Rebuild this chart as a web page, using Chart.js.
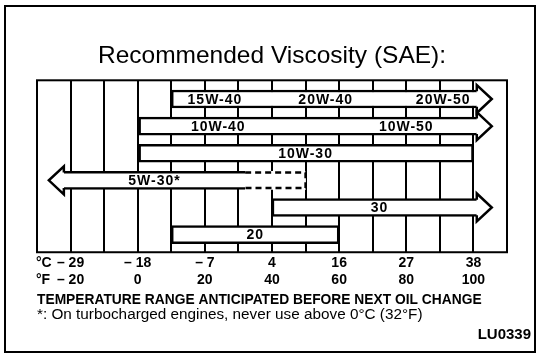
<!DOCTYPE html>
<html>
<head>
<meta charset="utf-8">
<script src="https://cdn.jsdelivr.net/npm/chart.js@4/dist/chart.umd.min.js"></script>
<style>
  html, body { margin: 0; padding: 0; background: #fff; }
  #wrap { width: 541px; height: 359px; }
</style>
</head>
<body>
<div id="wrap"><canvas id="c" width="541" height="359"></canvas></div>
<script>
// Oil grades, one row each (top to bottom)
const rowNames = ['15W-40 / 20W-40 / 20W-50', '10W-40 / 10W-50', '10W-30', '5W-30*', '30', '20'];
// Recommended ambient temperature range per row, in °F
const rangeFrom = [10, 0, 0, -22, 40, 10];
const rangeTo   = [101, 101, 100, 32, 101, 60];
// Ranges that stay open beyond the printed scale
const openSide = ['right', 'right', null, 'left', 'right', null];
// Dashed stretch of 5W-30 (not for turbocharged engines above 0 °C)
const dashedRow  = [3];
const dashedFrom = [32];
const dashedTo   = [50];
// Grade names printed in each bar, and the °F value each one is centred on
const gradeNames = [['15W-40', '20W-40', '20W-50'], ['10W-40', '10W-50'], ['10W-30'], ['5W-30*'], ['30'], ['20']];
const gradeAtF   = [[23, 56, 91], [24, 80], [50], [5], [72], [35]];
// Temperature scale labels
const tickF = [-20, 0, 20, 40, 60, 80, 100];
const tickC = [-29, -18, -7, 4, 16, 27, 38];

const FONT = '"Liberation Sans", Arial, Helvetica, sans-serif';
const INK = '#000';
const BAR_LW = 2.5;

function fmtDeg(v) {
  return v < 0 ? '\u2013 ' + Math.abs(v) : String(v);
}

// White page and the thin frame round the whole figure
const framePlugin = {
  id: 'frame',
  beforeDraw(chart) {
    const ctx = chart.ctx;
    ctx.save();
    ctx.fillStyle = '#fff';
    ctx.fillRect(0, 0, chart.width, chart.height);
    ctx.strokeStyle = INK;
    ctx.lineWidth = 2;
    ctx.strokeRect(5, 6, chart.width - 11, chart.height - 13);
    ctx.restore();
  }
};

// Outline of the plotting box
const boxPlugin = {
  id: 'box',
  beforeDatasetsDraw(chart) {
    const {ctx, chartArea: a} = chart;
    ctx.save();
    ctx.strokeStyle = INK;
    ctx.lineWidth = 2;
    ctx.strokeRect(a.left, a.top, a.right - a.left, a.bottom - a.top);
    ctx.restore();
  }
};

// Arrow heads, dashed stretch and grade names on the bars
const marksPlugin = {
  id: 'marks',
  afterDatasetsDraw(chart) {
    const ctx = chart.ctx;
    const xs = chart.scales.x, ys = chart.scales.y;
    const HEAD_LEN = 15, HEAD_HALF = 14;
    ctx.save();
    ctx.strokeStyle = INK;
    ctx.fillStyle = '#fff';
    ctx.lineWidth = BAR_LW;
    ctx.lineJoin = 'miter';

    const bars = chart.getDatasetMeta(0).data;
    bars.forEach((el, i) => {
      const side = openSide[i];
      if (!side) return;
      const p = el.getProps(['x', 'y', 'base', 'height'], true);
      const yTop = p.y - p.height / 2 + BAR_LW / 2;
      const yBot = p.y + p.height / 2 - BAR_LW / 2;
      const xe = side === 'right' ? Math.max(p.x, p.base) : Math.min(p.x, p.base);
      const dir = side === 'right' ? 1 : -1;
      ctx.beginPath();
      ctx.moveTo(xe, p.y - HEAD_HALF);
      ctx.lineTo(xe + dir * HEAD_LEN, p.y);
      ctx.lineTo(xe, p.y + HEAD_HALF);
      ctx.closePath();
      ctx.fill();
      ctx.beginPath();
      ctx.moveTo(xe, yTop);
      ctx.lineTo(xe, p.y - HEAD_HALF);
      ctx.lineTo(xe + dir * HEAD_LEN, p.y);
      ctx.lineTo(xe, p.y + HEAD_HALF);
      ctx.lineTo(xe, yBot);
      ctx.stroke();
    });

    // dashed outline of the restricted stretch
    const ext = chart.getDatasetMeta(1).data;
    ctx.setLineDash([6, 4]);
    ext.forEach(el => {
      const p = el.getProps(['x', 'y', 'base', 'height'], true);
      const x0 = Math.min(p.x, p.base), x1 = Math.max(p.x, p.base);
      const yTop = p.y - p.height / 2 + BAR_LW / 2;
      const yBot = p.y + p.height / 2 - BAR_LW / 2;
      ctx.beginPath();
      ctx.moveTo(x0, yTop);
      ctx.lineTo(x1, yTop);
      ctx.lineTo(x1, yBot);
      ctx.lineTo(x0, yBot);
      ctx.stroke();
    });
    ctx.setLineDash([]);

    // grade names
    ctx.fillStyle = INK;
    ctx.font = 'bold 14px ' + FONT;
    ctx.textAlign = 'center';
    ctx.textBaseline = 'middle';
    if ('letterSpacing' in ctx) ctx.letterSpacing = '1px';
    gradeNames.forEach((names, row) => {
      names.forEach((name, k) => {
        ctx.fillText(name, xs.getPixelForValue(gradeAtF[row][k]), ys.getPixelForValue(row) + 1);
      });
    });
    if ('letterSpacing' in ctx) ctx.letterSpacing = '0px';
    ctx.restore();
  }
};

// Unit markers, footnote and figure code
const notesPlugin = {
  id: 'notes',
  afterDraw(chart) {
    const {ctx, chartArea: a} = chart;
    const tickOpts = chart.options.scales.x.ticks;
    const lh = tickOpts.font.size * tickOpts.font.lineHeight;
    const y1 = a.bottom + tickOpts.padding + lh / 2;
    ctx.save();
    ctx.fillStyle = INK;
    ctx.textBaseline = 'middle';
    ctx.textAlign = 'left';
    ctx.font = 'bold 14px ' + FONT;
    ctx.fillText('\u00B0C', a.left - 1, y1);
    ctx.fillText('\u00B0F', a.left - 1, y1 + lh);
    ctx.font = '15.3px ' + FONT;
    ctx.fillText('*: On turbocharged engines, never use above 0\u00B0C (32\u00B0F)', a.left, 315);
    ctx.font = 'bold 15px ' + FONT;
    ctx.textAlign = 'right';
    ctx.fillText('LU0339', 531, 335);
    ctx.restore();
  }
};

new Chart(document.getElementById('c'), {
  type: 'bar',
  data: {
    datasets: [
      {
        label: 'Recommended range',
        data: rowNames.map((n, i) => ({ x: [rangeFrom[i], rangeTo[i]], y: i })),
        backgroundColor: '#fff',
        borderColor: INK,
        borderSkipped: false,
        borderWidth: c => {
          const i = c.dataIndex;
          const side = openSide[i];
          const joined = dashedRow.includes(i);
          return {
            top: BAR_LW, bottom: BAR_LW,
            left: side === 'left' ? 0 : BAR_LW,
            right: (side === 'right' || joined) ? 0 : BAR_LW
          };
        },
        grouped: false,
        barThickness: 18
      },
      {
        label: 'Restricted',
        data: dashedRow.map((r, i) => ({ x: [dashedFrom[i], dashedTo[i]], y: r })),
        backgroundColor: '#fff',
        borderWidth: 0,
        borderSkipped: false,
        grouped: false,
        barThickness: 18
      }
    ]
  },
  options: {
    indexAxis: 'y',
    responsive: false,
    animation: false,
    devicePixelRatio: 1,
    layout: { padding: { left: 37, right: 34, top: 30, bottom: 50.6 } },
    plugins: {
      legend: { display: false },
      tooltip: { enabled: false },
      title: {
        display: true,
        text: 'Recommended Viscosity (SAE):',
        color: INK,
        font: { family: FONT, size: 24.5, weight: 'normal', lineHeight: 1.2 },
        padding: { top: 11.3, bottom: 9.6 }
      }
    },
    scales: {
      x: {
        type: 'linear',
        min: -30,
        max: 110,
        position: 'bottom',
        grid: { color: INK, lineWidth: 2, drawTicks: false },
        border: { display: false },
        ticks: {
          stepSize: 10,
          autoSkip: false,
          maxRotation: 0,
          color: INK,
          padding: 3,
          font: { family: FONT, size: 14, weight: 'bold', lineHeight: 1.2 },
          callback: v => {
            const k = tickF.indexOf(v);
            return k < 0 ? '' : [fmtDeg(tickC[k]), fmtDeg(tickF[k])];
          }
        },
        title: {
          display: true,
          text: 'TEMPERATURE RANGE ANTICIPATED BEFORE NEXT OIL CHANGE',
          align: 'start',
          color: INK,
          font: { family: FONT, size: 13.8, weight: 'bold', lineHeight: 1.2 },
          padding: { top: 0, bottom: 0 }
        }
      },
      y: {
        type: 'linear',
        min: -0.69,
        max: 5.65,
        reverse: true,
        offset: false,
        display: false
      }
    }
  },
  plugins: [framePlugin, boxPlugin, marksPlugin, notesPlugin]
});
</script>
</body>
</html>
